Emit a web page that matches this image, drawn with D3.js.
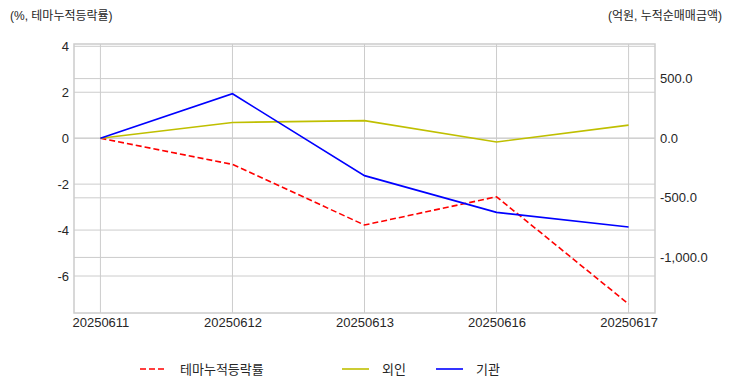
<!DOCTYPE html>
<html>
<head>
<meta charset="utf-8">
<script src="https://cdn.jsdelivr.net/npm/d3@7"></script>
<style>
  body { margin: 0; background: #fff; }
  text { font-family: "Liberation Sans", "Noto Sans CJK KR", sans-serif; fill: #262626; }
</style>
</head>
<body>
<svg id="chart" width="732" height="392"></svg>
<script>
// data
const dates = ["20250611", "20250612", "20250613", "20250616", "20250617"];
const themeReturn = [0, -1.14, -3.78, -2.55, -7.22];   // %, left axis
const foreign = [0, 132, 147, -32, 110];              // 억원, right axis
const institution = [0, 373, -314, -622, -745];       // 억원, right axis
const leftTicks = [-6, -4, -2, 0, 2, 4];
const rightTicks = [-1000, -500, 0, 500];

const svg = d3.select("#chart"),
  width = +svg.attr("width"),
  height = +svg.attr("height");

const plot = { left: 74, right: 655, top: 44, bottom: 313 };

const x = d3.scalePoint()
  .domain(dates)
  .range([plot.left, plot.right])
  .padding(0.2);

const yL = d3.scaleLinear().domain([-7.61, 4.1]).range([plot.bottom, plot.top]);
const yR = d3.scaleLinear().domain([-1466, 790]).range([plot.bottom, plot.top]);

const locale = d3.formatLocale({ decimal: ".", thousands: ",", grouping: [3], currency: ["", ""], minus: "-" });
const fmtR = locale.format(",.1f");
const fmtL = locale.format("d");

// grid
const grid = svg.append("g").attr("stroke", "#cccccc").attr("stroke-width", 1);
grid.selectAll(".gx").data(dates).enter().append("line")
  .attr("x1", d => x(d)).attr("x2", d => x(d))
  .attr("y1", plot.top).attr("y2", plot.bottom);
grid.selectAll(".gl").data(leftTicks).enter().append("line")
  .attr("x1", plot.left).attr("x2", plot.right)
  .attr("y1", d => yL(d)).attr("y2", d => yL(d));
grid.selectAll(".gr").data(rightTicks).enter().append("line")
  .attr("x1", plot.left).attr("x2", plot.right)
  .attr("y1", d => yR(d)).attr("y2", d => yR(d));

// frame
svg.append("rect")
  .attr("x", plot.left).attr("y", plot.top)
  .attr("width", plot.right - plot.left).attr("height", plot.bottom - plot.top)
  .attr("fill", "none").attr("stroke", "#cccccc").attr("stroke-width", 1.5);

// axes
const axL = svg.append("g").attr("transform", `translate(${plot.left},0)`)
  .call(d3.axisLeft(yL).tickValues(leftTicks).tickFormat(fmtL).tickSize(0).tickPadding(5));
const axR = svg.append("g").attr("transform", `translate(${plot.right},0)`)
  .call(d3.axisRight(yR).tickValues(rightTicks).tickFormat(fmtR).tickSize(0).tickPadding(5));
const axB = svg.append("g").attr("transform", `translate(0,${plot.bottom})`)
  .call(d3.axisBottom(x).tickSize(0).tickPadding(5));
[axL, axR, axB].forEach(a => {
  a.select(".domain").remove();
  a.selectAll("text").style("font-size", "13px").attr("fill", "#262626");
});

// lines
const series = [
  { name: "테마누적등락률", values: themeReturn, scale: yL, color: "#ff0000", dash: "6,3" },
  { name: "외인", values: foreign, scale: yR, color: "#bfbf00", dash: null },
  { name: "기관", values: institution, scale: yR, color: "#0000ff", dash: null }
];

series.forEach(s => {
  const line = d3.line()
    .x((d, i) => x(dates[i]))
    .y(d => s.scale(d));
  svg.append("path")
    .datum(s.values)
    .attr("d", line)
    .attr("fill", "none")
    .attr("stroke", s.color)
    .attr("stroke-width", 1.6)
    .attr("stroke-dasharray", s.dash);
});

// axis titles
svg.append("text").attr("x", 10).attr("y", 20)
  .style("font-size", "12px").text("(%, 테마누적등락률)");
svg.append("text").attr("x", 722).attr("y", 20).attr("text-anchor", "end")
  .style("font-size", "12px").text("(억원, 누적순매매금액)");

// legend
const legendX = [140, 342, 436];
const legend = svg.append("g");
series.forEach((s, i) => {
  legend.append("line")
    .attr("x1", legendX[i]).attr("x2", legendX[i] + 27)
    .attr("y1", 369).attr("y2", 369)
    .attr("stroke", s.color).attr("stroke-width", 1.6)
    .attr("stroke-dasharray", s.dash);
  legend.append("text")
    .attr("x", legendX[i] + 40).attr("y", 373.5)
    .style("font-size", "13px").text(s.name);
});
</script>
</body>
</html>
